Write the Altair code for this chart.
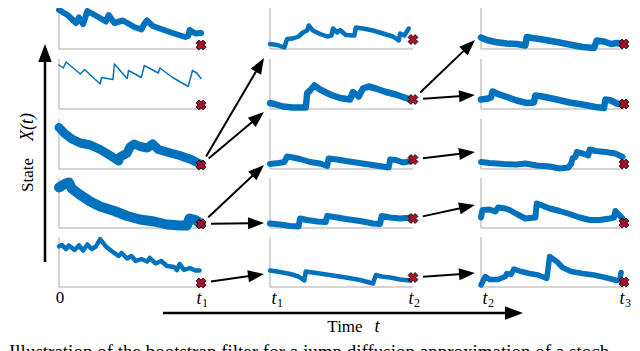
import math
import altair as alt
import pandas as pd

# ---------------- data: particle trajectories ----------------
# t: percent of the filtering interval, x: state as percent of panel height
c1r1_t = [0, 6, 12, 14, 17, 20, 27, 33, 35, 39, 45, 53, 58, 60, 62, 66, 71, 81, 89, 91, 92, 96, 100]
c1r1_x = [78, 68, 52, 63, 50, 76, 65, 55, 68, 52, 57, 44, 39, 50, 57, 46, 41, 31, 24, 26, 38, 31, 32]
c1r2_t = [0, 3, 5, 15, 18, 29, 30, 38, 39, 48, 49, 58, 60, 70, 71, 80, 91, 94, 97, 100]
c1r2_x = [88, 82, 94, 70, 79, 50, 63, 59, 90, 61, 77, 63, 87, 72, 82, 63, 45, 77, 72, 61]
c1r3_t = [0, 4, 9, 15, 22, 29, 36, 42, 43, 48, 50, 53, 57, 62, 66, 70, 76, 85, 93, 100]
c1r3_x = [83, 71, 60, 52, 48, 39, 27, 16, 24, 32, 44, 50, 45, 42, 50, 39, 34, 27, 19, 9]
c1r4_t = [0, 4, 7, 9, 15, 22, 29, 39, 48, 57, 67, 76, 85, 90, 92, 96, 100]
c1r4_x = [81, 88, 91, 79, 66, 53, 43, 34, 24, 17, 13, 7, 5, 5, 19, 16, 9]
c1r5_t = [0, 2, 5, 7, 11, 14, 17, 20, 23, 26, 29, 33, 37, 42, 44, 48, 51, 54, 58, 62, 64, 68, 72, 76, 81, 83, 85, 88, 92, 96, 99]
c1r5_x = [81, 84, 76, 83, 74, 83, 73, 85, 76, 81, 96, 81, 72, 62, 68, 57, 62, 52, 56, 51, 58, 47, 52, 42, 40, 34, 46, 34, 38, 33, 33]

c2r1_t = [0, 5, 10, 12, 16, 20, 23, 26, 27, 30, 35, 40, 43, 44, 47, 49, 53, 59, 60, 65, 72, 79, 86, 90, 91, 94, 97]
c2r1_x = [10, 8, 3, 20, 21, 25, 33, 37, 47, 37, 30, 25, 27, 41, 33, 38, 28, 27, 43, 41, 37, 31, 25, 17, 31, 27, 41]
c2r2_t = [0, 3, 9, 16, 25, 26, 28, 31, 35, 42, 49, 56, 58, 62, 65, 69, 74, 81, 88, 94, 99]
c2r2_x = [12, 10, 5, 3, 3, 32, 37, 47, 39, 29, 22, 19, 34, 25, 41, 45, 41, 34, 29, 23, 18]
c2r3_t = [0, 6, 10, 12, 16, 21, 28, 35, 40, 41, 47, 53, 60, 67, 74, 83, 84, 88, 93, 99]
c2r3_x = [10, 12, 14, 25, 23, 20, 14, 11, 6, 21, 19, 16, 13, 10, 7, 3, 19, 18, 13, 16]
c2r4_t = [0, 7, 14, 20, 21, 26, 33, 39, 40, 47, 53, 63, 72, 77, 78, 84, 91, 99]
c2r4_x = [9, 7, 4, 3, 19, 16, 13, 12, 24, 21, 18, 14, 9, 8, 24, 21, 19, 21]
c2r5_t = [0, 7, 14, 20, 24, 25, 30, 37, 44, 53, 63, 72, 74, 78, 84, 91, 98]
c2r5_x = [33, 30, 26, 21, 13, 31, 29, 26, 23, 19, 14, 7, 24, 21, 19, 15, 13]

c3r1_t = [0, 4, 10, 18, 25, 31, 32, 36, 43, 53, 62, 71, 79, 81, 86, 91, 95, 99]
c3r1_x = [23, 18, 14, 11, 10, 7, 24, 22, 19, 14, 9, 4, 2, 17, 15, 10, 12, 11]
c3r2_t = [0, 5, 7, 8, 12, 18, 25, 32, 37, 38, 43, 53, 62, 71, 80, 86, 87, 91, 95, 99]
c3r2_x = [19, 21, 23, 35, 30, 24, 17, 12, 13, 27, 25, 19, 13, 9, 4, 2, 19, 17, 11, 9]
c3r3_t = [0, 6, 16, 25, 31, 39, 48, 55, 61, 63, 64, 66, 67, 71, 75, 76, 80, 87, 94, 99]
c3r3_x = [14, 12, 10, 9, 11, 7, 5, 1, 3, 10, 21, 24, 34, 31, 27, 39, 36, 34, 31, 24]
c3r4_t = [0, 1, 6, 10, 12, 17, 20, 25, 31, 38, 39, 42, 48, 55, 62, 69, 76, 83, 90, 93, 94, 96, 99]
c3r4_x = [21, 36, 37, 33, 41, 39, 36, 28, 19, 21, 49, 46, 39, 34, 28, 21, 16, 16, 19, 21, 34, 28, 19]
c3r5_t = [0, 3, 6, 12, 17, 18, 21, 23, 28, 34, 40, 46, 48, 53, 57, 63, 71, 79, 87, 95, 97, 98]
c3r5_x = [4, 21, 15, 15, 21, 27, 25, 36, 31, 27, 24, 17, 61, 51, 39, 31, 27, 24, 19, 13, 14, 29]

# observation level at the end of each interval (percent of panel height)
obs_pct = [8, 19, 10]
# resampling ancestry: parent row (0-based) of each particle in the next column
parents_col2 = [2, 2, 3, 3, 4]
parents_col3 = [1, 1, 2, 3, 4]
# tick labels
left_ticks = ["0", "t1", "t2"]
right_ticks = ["t1", "t2", "t3"]
caption = "Illustration of the bootstrap filter for a jump diffusion approximation of a stoch"

# ---------------- layout / style ----------------
col_left = [59, 270, 481]
col_right = [201, 413, 624]
row_bottom = [49, 109, 169, 228, 287]
PANEL_H = 50
line_w = [[6, 1.5, 9, 10, 4.5], [4.5, 6.5, 6, 6, 4.5], [6.5, 6.5, 6, 6, 5.5]]
arrow_tip_pct = [[-18, -6, 8, 10, 26], [18, 28, 34, 46, 28]]
BLUE = "#0072BD"

panels = [
    [(c1r1_t, c1r1_x), (c1r2_t, c1r2_x), (c1r3_t, c1r3_x), (c1r4_t, c1r4_x), (c1r5_t, c1r5_x)],
    [(c2r1_t, c2r1_x), (c2r2_t, c2r2_x), (c2r3_t, c2r3_x), (c2r4_t, c2r4_x), (c2r5_t, c2r5_x)],
    [(c3r1_t, c3r1_x), (c3r2_t, c3r2_x), (c3r3_t, c3r3_x), (c3r4_t, c3r4_x), (c3r5_t, c3r5_x)],
]

trace_rows, frame_rows, cross_rows = [], [], []
for c in range(3):
    L, R = col_left[c], col_right[c]
    for r in range(5):
        B = row_bottom[r]
        ts, xs = panels[c][r]
        for i, (t, v) in enumerate(zip(ts, xs)):
            trace_rows.append({"panel": f"{c}-{r}", "i": i,
                               "px": L + t / 100 * (R - L), "py": B - v / 100 * PANEL_H,
                               "w": line_w[c][r]})
        frame_rows.append({"x": L, "x2": L, "y": B - PANEL_H, "y2": B})
        frame_rows.append({"x": L, "x2": R, "y": B, "y2": B})
        cross_rows.append({"x": R, "y": B - obs_pct[c] / 100 * PANEL_H})

traces = pd.DataFrame(trace_rows)
frames = pd.DataFrame(frame_rows)
crosses = pd.DataFrame(cross_rows)


def arrow(x0, y0, x1, y1, head, start_gap=0.0):
    dx, dy = x1 - x0, y1 - y0
    d = math.hypot(dx, dy)
    ux, uy = dx / d, dy / d
    ang = (math.degrees(math.atan2(dx, -dy)) + 360) % 360
    return {"x": x0 + ux * start_gap, "y": y0 + uy * start_gap,
            "x2": x1 - ux * head * 0.8, "y2": y1 - uy * head * 0.8,
            "tx": x1, "ty": y1, "ang": ang}


arrow_rows = []
for c, parents in ((1, parents_col2), (2, parents_col3)):
    for r, p in enumerate(parents):
        sx = col_right[c - 1]
        sy = row_bottom[p] - obs_pct[c - 1] / 100 * PANEL_H
        tx = col_left[c] - 6
        ty = row_bottom[r] - arrow_tip_pct[c - 1][r] / 100 * PANEL_H
        arrow_rows.append(arrow(sx, sy, tx, ty, 16, start_gap=10))
arrows = pd.DataFrame(arrow_rows)
axis_arrows = pd.DataFrame([arrow(45, 262, 45, 44, 18), arrow(163, 313, 523, 313, 18)])

xs = alt.Scale(domain=[8, 632], nice=False, zero=False)
ys = alt.Scale(domain=[368, 8], nice=False, zero=False)
X = lambda f: alt.X(f, scale=xs, axis=None)
Y = lambda f: alt.Y(f, scale=ys, axis=None)

frame_layer = alt.Chart(frames).mark_rule(color="#a9a9a9", strokeWidth=1).encode(
    x=X("x:Q"), x2="x2:Q", y=Y("y:Q"), y2="y2:Q")

trace_layer = alt.Chart(traces).mark_line(color=BLUE, strokeCap="round", strokeJoin="round").encode(
    x=X("px:Q"), y=Y("py:Q"), detail="panel:N", order="i:Q",
    strokeWidth=alt.StrokeWidth("w:Q", scale=None, legend=None))

cross_layer = alt.Chart(crosses).mark_point(
    shape="cross", angle=45, filled=True, fill="#a8102a", stroke="black",
    strokeWidth=0.8, size=100, opacity=1).encode(x=X("x:Q"), y=Y("y:Q"))

HEAD = "M0,0L0.75,2L-0.75,2Z"
arrow_lines = alt.Chart(arrows).mark_rule(color="black", strokeWidth=2).encode(
    x=X("x:Q"), y=Y("y:Q"), x2="x2:Q", y2="y2:Q")
arrow_heads = alt.Chart(arrows).mark_point(
    shape=HEAD, filled=True, color="black", size=256, opacity=1).encode(
    x=X("tx:Q"), y=Y("ty:Q"), angle=alt.Angle("ang:Q", scale=None))
ax_lines = alt.Chart(axis_arrows).mark_rule(color="black", strokeWidth=2.5).encode(
    x=X("x:Q"), y=Y("y:Q"), x2="x2:Q", y2="y2:Q")
ax_heads = alt.Chart(axis_arrows).mark_point(
    shape=HEAD, filled=True, color="black", size=324, opacity=1).encode(
    x=X("tx:Q"), y=Y("ty:Q"), angle=alt.Angle("ang:Q", scale=None))

# ---------------- text ----------------
SERIF = "Liberation Serif"
main_rows, sub_rows = [], []
for c in range(3):
    for name, xpos in ((left_ticks[c], col_left[c] + (1 if left_ticks[c] == "0" else 4)),
                       (right_ticks[c], col_right[c] - 2)):
        if name == "0":
            main_rows.append({"x": xpos, "y": 303, "text": "0", "style": "normal"})
        else:
            main_rows.append({"x": xpos, "y": 304, "text": name[0], "style": "italic"})
            sub_rows.append({"x": xpos + 6, "y": 307, "text": name[1:]})
main_rows.append({"x": 345, "y": 332, "text": "Time", "style": "normal"})
main_rows.append({"x": 377, "y": 332, "text": "t", "style": "italic"})
tick_df = pd.DataFrame(main_rows)

roman = alt.Chart(tick_df[tick_df["style"] == "normal"]).mark_text(
    font=SERIF, fontSize=17, baseline="alphabetic", align="center", color="black").encode(
    x=X("x:Q"), y=Y("y:Q"), text="text:N")
italic = alt.Chart(tick_df[tick_df["style"] == "italic"]).mark_text(
    font=SERIF, fontSize=18, fontStyle="italic", baseline="alphabetic", align="center",
    color="black").encode(x=X("x:Q"), y=Y("y:Q"), text="text:N")
subs = alt.Chart(pd.DataFrame(sub_rows)).mark_text(
    font=SERIF, fontSize=12, baseline="alphabetic", align="center", color="black").encode(
    x=X("x:Q"), y=Y("y:Q"), text="text:N")

state_df = pd.DataFrame([{"x": 33, "y": 175, "text": "State"}])
state_lbl = alt.Chart(state_df).mark_text(
    font=SERIF, fontSize=17, angle=270, baseline="alphabetic", align="center", color="black").encode(
    x=X("x:Q"), y=Y("y:Q"), text="text:N")
xt_df = pd.DataFrame([{"x": 33, "y": 127, "text": "X(t)"}])
xt_lbl = alt.Chart(xt_df).mark_text(
    font=SERIF, fontSize=18, fontStyle="italic", angle=270, baseline="alphabetic",
    align="center", color="black").encode(x=X("x:Q"), y=Y("y:Q"), text="text:N")

cap_df = pd.DataFrame([{"x": 9, "y": 358, "text": caption}])
cap_lbl = alt.Chart(cap_df).mark_text(
    font=SERIF, fontSize=19, baseline="alphabetic", align="left", color="black").encode(
    x=X("x:Q"), y=Y("y:Q"), text="text:N")

chart = alt.layer(
    frame_layer, trace_layer, cross_layer, arrow_lines, arrow_heads, ax_lines, ax_heads,
    roman, italic, subs, state_lbl, xt_lbl, cap_lbl
).properties(
    width=624, height=360, padding=0, autosize=alt.AutoSizeParams(type="none")
).configure_view(stroke=None)

chart.save("out.html", embed_options={"renderer": "svg", "actions": False})
